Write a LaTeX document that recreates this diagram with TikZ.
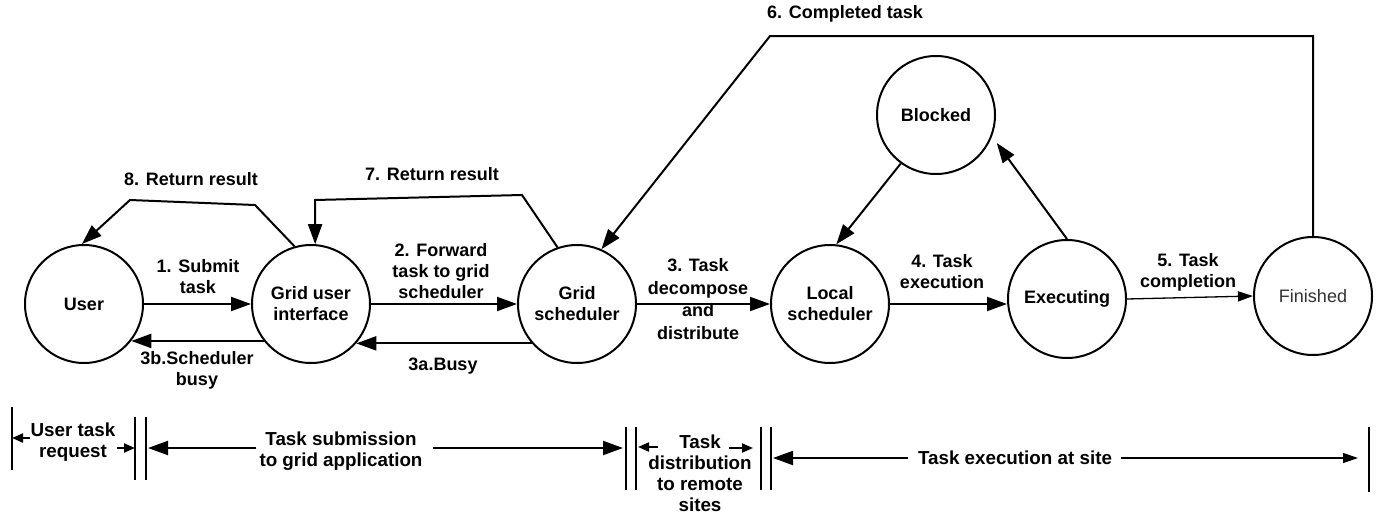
\documentclass[tikz,border=0pt]{standalone}
\usepackage{fontspec}
\setmainfont{Liberation Sans}
\usetikzlibrary{arrows.meta}
\begin{document}
\begin{tikzpicture}[x=1pt,y=-1pt,
  txt/.style={font=\bfseries\fontsize{18}{21}\selectfont},
  btxt/.style={font=\bfseries\fontsize{18.8}{21}\selectfont},
  state/.style={circle,draw,line width=2pt,minimum size=118pt,inner sep=0pt,align=center,txt},
  lbl/.style={align=center,txt,inner sep=0pt},
  blbl/.style={align=center,btxt,inner sep=0pt},
  arr/.style={line width=2pt,-{Triangle[length=20pt,width=14pt]}},
  thinarr/.style={line width=1.3pt,-{Triangle[length=15pt,width=10pt]}},
  smallarr/.style={line width=2pt,-{Triangle[length=11pt,width=9pt]}},
  bar/.style={line width=2pt},
  line join=miter]
\useasboundingbox[fill=white] (0,0) rectangle (1376,514);

% states
\node[state] (user) at (84,304) {User};
\node[state] (gui) at (311,304) {Grid user\\interface};
\node[state] (gs) at (577,304) {Grid\\scheduler};
\node[state] (ls) at (830,304) {Local\\scheduler};
\node[state] (blocked) at (936,115) {Blocked};
\node[state] (exe) at (1067,299) {Executing};
\node[state,font=\mdseries\fontsize{18}{21}\selectfont,text=black!80] (fin) at (1313,296) {Finished};

% main flow
\draw[arr] (user.east) -- (gui.west);
\draw[arr] (gui.218.8) -- (user.-38.8);
\draw[arr] (gui.east) -- (gs.west);
\draw[arr] (gs.221.4) -- (gui.-41.4);
\draw[arr] (gs.east) -- (ls.west);
\draw[arr] (ls.east) -- (ls.east -| exe.west);
\draw[thinarr] (exe.east) -- (fin.west);
\draw[arr,shorten >=8pt] (exe.north) -- (blocked.-21);
\draw[arr] (blocked.234) -- (ls.84);

% return paths
\coordinate (c6) at (770,36);
\draw[arr] (fin.north) -- (fin.north |- c6) -- (c6) -- (gs.66);
\coordinate (c7a) at (522,195);
\coordinate (c7b) at (315,200);
\draw[arr] (gs.109) -- (c7a) -- (c7b) -- (gui.86);
\coordinate (c8a) at (255,205);
\coordinate (c8b) at (130,200);
\draw[arr] (gui.106) -- (c8a) -- (c8b) -- (user.92);

% labels
\node[lbl] (l8) at (191,179) {8. Return result};
\node[lbl] (l7) at (432,174) {7. Return result};
\node[lbl] (l6) at (845,14) {6. Completed task};
\node[lbl] (l1) at (198,277) {1. Submit\\task};
\node[lbl] (l3b) at (197,370) {3b.Scheduler\\busy};
\node[lbl] (l2) at (441,271) {2. Forward\\task to grid\\scheduler};
\node[lbl] (l3a) at (443,366) {3a.Busy};
\node[lbl,font=\bfseries\fontsize{18}{22.5}\selectfont] (l3) at (698,299) {3. Task\\decompose\\and\\distribute};
\node[lbl] (l4) at (942,272) {4. Task\\execution};
\node[lbl] (l5) at (1188,272) {5. Task\\completion};

% bottom timeline
\coordinate (b0t) at (12,407);  \coordinate (b0b) at (12,470);
\coordinate (b1t) at (135,417); \coordinate (b1b) at (135,480);
\coordinate (b2t) at (146,417); \coordinate (b2b) at (146,480);
\coordinate (b3t) at (626,427); \coordinate (b3b) at (626,490);
\coordinate (b4t) at (636,427); \coordinate (b4b) at (636,490);
\coordinate (b5t) at (761,427); \coordinate (b5b) at (761,490);
\coordinate (b6t) at (771,427); \coordinate (b6b) at (771,490);
\coordinate (b7t) at (1369,427); \coordinate (b7b) at (1369,492);
\foreach \t/\b in {b0t/b0b,b1t/b1b,b2t/b2b,b3t/b3b,b4t/b4b,b5t/b5b,b6t/b6b,b7t/b7b}
  \draw[bar] (\t) -- (\b);

\node[blbl] (utr) at (73,442) {User task\\request};
\coordinate (u1) at (30,438);
\coordinate (u2) at (117,448);
\draw[smallarr] (u1) -- (b0t |- u1);
\draw[smallarr] (u2) -- (b1t |- u2);

\node[blbl] (tsub) at (341,451) {Task submission\\to grid application};
\draw[arr,shorten <=3pt] ([yshift=3pt]tsub.west) -- ([xshift=2pt]b2t |- 0,448);
\draw[arr,shorten <=10pt] ([yshift=3pt]tsub.east) -- ([xshift=-3pt]b3t |- 0,448);

\node[blbl] (tdist) at (700,473) {Task\\distribution\\to remote\\sites};
\coordinate (d1) at (658,447);
\coordinate (d2) at (729,448);
\draw[smallarr] (d1) -- ([xshift=2pt]b4t |- d1);
\draw[smallarr] (d2) -- ([xshift=-8pt]b5t |- d2);

\node[blbl] (texec) at (1015,458) {Task execution at site};
\draw[arr,shorten <=10pt] (texec.west) -- ([xshift=2pt]b6t |- texec.west);
\draw[thinarr,shorten <=9pt] (texec.east) -- ([xshift=-11pt]b7t |- texec.east);
\end{tikzpicture}
\end{document}
